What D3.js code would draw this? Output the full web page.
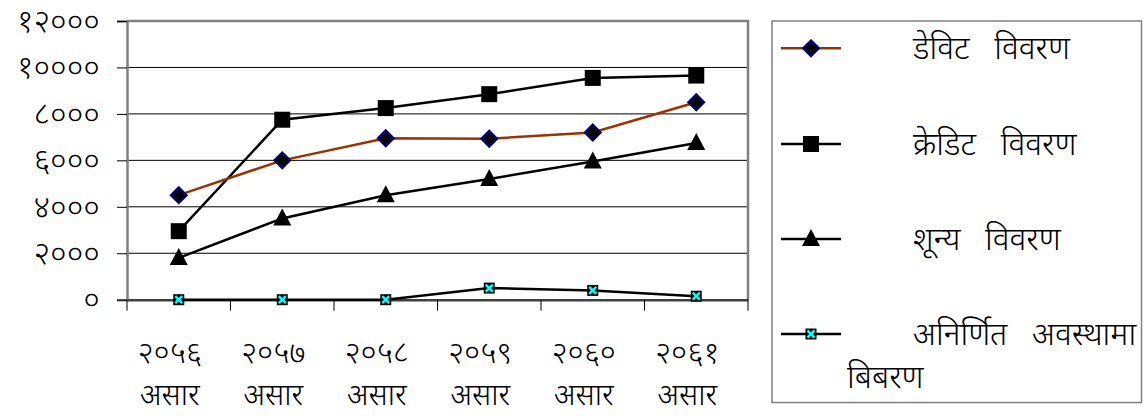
<!DOCTYPE html>
<html><head><meta charset="utf-8">
<script src="https://cdn.jsdelivr.net/npm/d3@7/dist/d3.min.js"></script>
<style>
body{margin:0;background:#fff;}
svg text{font-family:"Noto Sans Devanagari","Lohit Devanagari","Mangal","Noto Sans",sans-serif;fill:#000;white-space:pre;}
</style></head>
<body><svg id="c" width="1146" height="419"></svg>
<script>
const years = ["२०५६","२०५७","२०५८","२०५९","२०६०","२०६१"];
const months = ["असार","असार","असार","असार","असार","असार"];
const yTicks = [0,2000,4000,6000,8000,10000,12000];
const yTickLabels = ["०","२०००","४०००","६०००","८०००","१००००","१२०००"];
const debit = [4500,6000,6950,6930,7200,8500];
const credit = [2950,7750,8250,8850,9550,9650];
const zero = [1800,3500,4500,5200,5950,6750];
const undetermined = [0,0,0,500,400,150];
const seriesNames = ["डेविट  विवरण","क्रेडिट  विवरण","शून्य  विवरण","अनिर्णित  अवस्थामा|बिबरण"];

const svg = d3.select("#c");
const L=127,R=748,T=21,B=299.7;
const x = d3.scaleBand().domain(d3.range(years.length)).range([L,R]);
const y = d3.scaleLinear().domain([0,12000]).range([B,T]);

svg.append("g").selectAll("line").data(yTicks.filter(d=>d>0&&d<12000)).join("line")
  .attr("x1",L).attr("x2",R).attr("y1",d=>y(d)).attr("y2",d=>y(d))
  .attr("stroke","#000").attr("stroke-width",1);
svg.append("path").attr("d",`M${L},${T}H${R}V${B}`).attr("fill","none").attr("stroke","#808080").attr("stroke-width",2.5);

const ya = svg.append("g").attr("transform",`translate(${L},0)`)
  .call(d3.axisLeft(y).tickValues(yTicks).tickSize(10).tickPadding(17).tickFormat((d,i)=>yTickLabels[i]));
ya.select(".domain").attr("stroke","#808080").attr("stroke-width",2.5);
ya.selectAll(".tick line").attr("stroke","#000").attr("stroke-width",1);
ya.selectAll("text").attr("font-size",32).attr("fill","#000").attr("font-weight",300);

const xa = svg.append("g").attr("transform",`translate(0,${B})`)
  .call(d3.axisBottom(x).tickSize(0).tickFormat(""));
xa.select(".domain").attr("stroke","#404040").attr("stroke-width",2.5);
const bounds = d3.range(years.length+1).map(i=>i<years.length?x(i):x(years.length-1)+x.bandwidth());
svg.append("g").selectAll("line").data(bounds).join("line")
  .attr("x1",d=>d).attr("x2",d=>d).attr("y1",B).attr("y2",B+11).attr("stroke","#000").attr("stroke-width",1);
const cx = i=>x(i)+x.bandwidth()/2;
svg.append("g").selectAll("text").data(years).join("text")
  .attr("x",(d,i)=>cx(i)-9).attr("y",363).attr("text-anchor","middle").attr("font-size",31).attr("font-weight",300).text(d=>d);
svg.append("g").selectAll("text").data(months).join("text")
  .attr("x",(d,i)=>cx(i)-9).attr("y",405).attr("text-anchor","middle").attr("font-size",30).attr("font-weight",300).text(d=>d);

const line = d3.line().x((d,i)=>cx(i)).y(d=>y(d));
function drawLine(data,color){
  svg.append("path").datum(data).attr("d",line).attr("fill","none").attr("stroke",color).attr("stroke-width",2.5);
}
function diamond(g,px,py){g.append("path").attr("d",`M${px},${py-8}L${px+8},${py}L${px},${py+8}L${px-8},${py}Z`).attr("fill","#000").attr("stroke","#000080").attr("stroke-width",2);}
function square(g,px,py){g.append("rect").attr("x",px-8).attr("y",py-8).attr("width",16).attr("height",16).attr("fill","#000");}
function tri(g,px,py){g.append("path").attr("d",`M${px},${py-10}L${px+9},${py+7}L${px-9},${py+7}Z`).attr("fill","#000");}
function xmark(g,px,py){
  g.append("rect").attr("x",px-5.5).attr("y",py-5.5).attr("width",11).attr("height",11).attr("fill","#000");
  g.append("path").attr("d",`M${px-3.5},${py-3.5}L${px+3.5},${py+3.5}M${px+3.5},${py-3.5}L${px-3.5},${py+3.5}`).attr("stroke","#00ffff").attr("stroke-width",2.5);
}
const series=[
  {data:debit,color:"#993300",m:diamond},
  {data:credit,color:"#000",m:square},
  {data:zero,color:"#000",m:tri},
  {data:undetermined,color:"#000",m:xmark}
];
series.slice().reverse().forEach(s=>{
  drawLine(s.data,s.color);
  const g=svg.append("g");
  s.data.forEach((d,i)=>s.m(g,cx(i),y(d)));
});

svg.append("rect").attr("x",772).attr("y",21).attr("width",369.5).attr("height",381.5)
  .attr("fill","none").attr("stroke","#808080").attr("stroke-width",1.5);
const rowY=[48.3,144,239,334];
series.forEach((s,i)=>{
  const g=svg.append("g");
  g.append("line").attr("x1",781).attr("x2",841).attr("y1",rowY[i]).attr("y2",rowY[i]).attr("stroke",s.color).attr("stroke-width",2.5);
  s.m(g,811,rowY[i]);
  const parts=seriesNames[i].split("|");
  g.append("text").attr("x",913).attr("y",rowY[i]+11).attr("font-size",32).attr("font-weight",300).attr("word-spacing",4).text(parts[0]);
  if(parts[1]) g.append("text").attr("x",847).attr("y",rowY[i]+54).attr("font-size",32).attr("font-weight",300).text(parts[1]);
});
</script></body></html>
